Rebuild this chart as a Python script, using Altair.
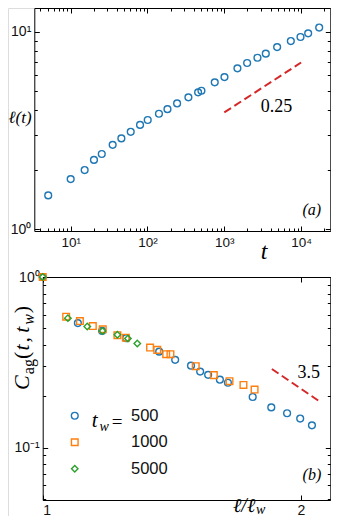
import altair as alt
import pandas as pd

# ---------------- panel (a): domain size l(t) ----------------
t_values = [5.1, 10, 15.2, 20.1, 25.4, 35.2, 45.7, 60.5, 80, 100.7, 141, 182, 243, 341, 456, 504,
            751, 1005, 1483, 1983, 2704, 3470, 4875, 7350, 9820, 12360, 17200]
ell_values = [1.48, 1.79, 1.99, 2.24, 2.40, 2.67, 2.88, 3.11, 3.37, 3.57, 3.84, 4.05, 4.33, 4.65, 4.93, 5.02,
              5.54, 5.89, 6.52, 6.94, 7.38, 7.74, 8.36, 8.97, 9.40, 9.81, 10.5]
guide_a_t = [1000, 10000]
guide_a_ell = [3.9, 6.98]

# ---------------- panel (b): autocorrelation ----------------
tw_labels = ["500", "1000", "5000"]
x500 = [1.0, 1.099, 1.173, 1.251, 1.367, 1.427, 1.489, 1.526, 1.559, 1.609, 1.644, 1.757, 1.847, 1.927, 1.996, 2.060]
c500 = [1.0, 0.537, 0.483, 0.438, 0.365, 0.327, 0.302, 0.279, 0.267, 0.250, 0.240, 0.198, 0.172, 0.159, 0.148, 0.135]
x1000 = [1.0, 1.065, 1.105, 1.144, 1.175, 1.222, 1.250, 1.334, 1.360, 1.393, 1.409, 1.508, 1.583, 1.651, 1.714, 1.766]
c1000 = [1.0, 0.585, 0.552, 0.516, 0.494, 0.456, 0.441, 0.386, 0.374, 0.353, 0.353, 0.300, 0.266, 0.245, 0.233, 0.219]
x5000 = [1.0, 1.070, 1.127, 1.174, 1.222, 1.257, 1.289]
c5000 = [1.0, 0.574, 0.513, 0.483, 0.459, 0.436, 0.408]
guide_b_x = [1.850, 2.101]
guide_b_c = [0.289, 0.187]

colors = ["#1f77b4", "#ff7f0e", "#2ca02c"]
shapes = ["circle", "square", "diamond"]
sizes = [46, 42, 62]
RED = "#d62728"
SANS = "Liberation Sans"
SERIF = "Liberation Serif"

# ---------------- canvas geometry (one view holding both panels) ----------------
W, H = 323, 508
A_L, A_R, A_T, A_B = 26.3, 322.3, 0.0, 223.0      # panel (a) frame
B_L, B_R, B_T, B_B = 34.7, 322.3, 269.0, 492.0    # panel (b) frame

xs_a = alt.Scale(type="log", domain=[3.36, 24000], range=[A_L, A_R], nice=False)
ys_a = alt.Scale(type="log", domain=[0.977, 13.19], range=[A_B, A_T], nice=False)
xs_b = alt.Scale(type="log", domain=[1.0, 2.164], range=[B_L, B_R], nice=False)
ys_b = alt.Scale(type="log", domain=[0.0493, 1.0], range=[B_B, B_T], nice=False)

NOAX = dict(labels=False, grid=False, title=None, minExtent=0, maxExtent=0)


def frame_and_ticks(data, xf, yf, xs, ys, L, R, T, B, xmaj, xmin, ymaj, ymin, major=5, minor=3):
    layers = []
    # top / right frame lines
    layers.append(alt.Chart(data).mark_point(opacity=0).encode(
        x=alt.X(f"{xf}:Q", scale=xs, axis=alt.Axis(orient="top", offset=-T, domain=True, ticks=False,
                                                   domainColor="black", domainWidth=1, values=[], **NOAX)),
        y=alt.Y(f"{yf}:Q", scale=ys, axis=alt.Axis(orient="right", offset=R - W, domain=True, ticks=False,
                                                   domainColor="black", domainWidth=1, values=[], **NOAX)),
    ))
    # inward ticks on all four sides
    for side in ("bl", "tr"):
        for xv, yv, s in ((xmaj, ymaj, major), (xmin, ymin, minor)):
            if side == "bl":
                xo, xoff, yo, yoff = "bottom", B - s - H, "left", -(L + s)
            else:
                xo, xoff, yo, yoff = "top", -(T + s), "right", R - s - W
            layers.append(alt.Chart(data).mark_point(opacity=0).encode(
                x=alt.X(f"{xf}:Q", scale=xs, axis=alt.Axis(
                    orient=xo, offset=xoff, values=xv, tickSize=s, ticks=True, domain=False,
                    tickColor="black", tickWidth=1, **NOAX)),
                y=alt.Y(f"{yf}:Q", scale=ys, axis=alt.Axis(
                    orient=yo, offset=yoff, values=yv, tickSize=s, ticks=True, domain=False,
                    tickColor="black", tickWidth=1, **NOAX)),
            ))
    return layers


def label_piece(text, x, y, size, style="normal", font=SERIF, angle=0, align="left", baseline="alphabetic"):
    return alt.Chart(pd.DataFrame({"s": [text]})).mark_text(
        font=font, fontSize=size, fontStyle=style, angle=angle, align=align, baseline=baseline,
        color="black").encode(x=alt.value(x), y=alt.value(y), text="s:N")


# ================= panel (a) =================
a_df = pd.DataFrame({"t": t_values, "ell": ell_values})
a_guide = pd.DataFrame({"t": guide_a_t, "ell": guide_a_ell})
a_txt1 = pd.DataFrame({"t": [4800], "ell": [4.17], "label": ["0.25"]})
a_txt2 = pd.DataFrame({"t": [13800], "ell": [1.25], "label": ["(a)"]})

main_a = alt.Chart(a_df).mark_point(filled=False, color=colors[0], size=sizes[0], strokeWidth=1.4, opacity=1).encode(
    x=alt.X("t:Q", scale=xs_a, axis=alt.Axis(
        orient="bottom", offset=A_B - H, values=[10, 100, 1000, 10000],
        labelExpr="datum.value < 50 ? '10\u00b9' : datum.value < 500 ? '10\u00b2' : datum.value < 5000 ? '10\u00b3' : '10\u2074'",
        ticks=False, domain=True, domainColor="black", domainWidth=1, grid=False, labelFont=SANS,
        labelFontSize=13.5, labelPadding=4, labelColor="#111", title=None, minExtent=0)),
    y=alt.Y("ell:Q", scale=ys_a, axis=alt.Axis(
        orient="left", offset=-A_L, values=[1, 10],
        labelExpr="datum.value < 5 ? '10\u2070' : '10\u00b9'",
        ticks=False, domain=True, domainColor="black", domainWidth=1, grid=False, labelFont=SANS,
        labelFontSize=14, labelPadding=3.5, labelColor="#111", title=None, minExtent=0)),
)
guide_a = alt.Chart(a_guide).mark_line(color=RED, strokeDash=[8, 4], strokeWidth=2).encode(
    x=alt.X("t:Q", scale=xs_a, axis=None), y=alt.Y("ell:Q", scale=ys_a, axis=None))
text_a1 = alt.Chart(a_txt1).mark_text(font=SERIF, fontSize=18, color="black").encode(
    x=alt.X("t:Q", scale=xs_a, axis=None), y=alt.Y("ell:Q", scale=ys_a, axis=None), text="label:N")
text_a2 = alt.Chart(a_txt2).mark_text(font=SERIF, fontSize=16, fontStyle="italic", color="black").encode(
    x=alt.X("t:Q", scale=xs_a, axis=None), y=alt.Y("ell:Q", scale=ys_a, axis=None), text="label:N")
titles_a = [
    label_piece("\u2113(t)", 0.5, 110, 17, "italic", baseline="middle"),
    label_piece("t", 256, 251, 24, "italic", align="center"),
]
ticks_a = frame_and_ticks(
    a_df, "t", "ell", xs_a, ys_a, A_L, A_R, A_T, A_B,
    [10, 100, 1000, 10000],
    [4, 5, 6, 7, 8, 9, 20, 30, 40, 50, 60, 70, 80, 90, 200, 300, 400, 500, 600, 700, 800, 900,
     2000, 3000, 4000, 5000, 6000, 7000, 8000, 9000, 20000],
    [1, 10],
    [2, 3, 4, 5, 6, 7, 8, 9],
)

# ================= panel (b) =================
rows = []
for lab, xv, cv in ((tw_labels[0], x500, c500), (tw_labels[1], x1000, c1000), (tw_labels[2], x5000, c5000)):
    for a, b in zip(xv, cv):
        rows.append({"x": a, "c": b, "tw": lab})
b_df = pd.DataFrame(rows)
b_guide = pd.DataFrame({"x": guide_b_x, "c": guide_b_c})
b_txt1 = pd.DataFrame({"x": [2.042], "c": [0.274], "label": ["3.5"]})
b_txt2 = pd.DataFrame({"x": [2.06], "c": [0.069], "label": ["(b)"]})

legend_b = alt.Legend(orient="none", legendX=58.5, legendY=399.5, title=None, labelFont=SANS,
                      labelFontSize=16.5, labelOffset=48, rowPadding=9.5, symbolStrokeWidth=1.4,
                      padding=0, labelLimit=0, labelColor="#111")

main_b = alt.Chart(b_df).mark_point(filled=False, strokeWidth=1.4, opacity=1).encode(
    x=alt.X("x:Q", scale=xs_b, axis=alt.Axis(
        orient="bottom", offset=B_B - H, values=[1, 2], format="d", ticks=False, domain=True,
        domainColor="black", domainWidth=1, grid=False, labelFont=SANS, labelFontSize=14,
        labelPadding=3, labelColor="#111", title=None, minExtent=0)),
    y=alt.Y("c:Q", scale=ys_b, axis=alt.Axis(
        orient="left", offset=-B_L, values=[0.1, 1],
        labelExpr="datum.value < 0.5 ? '10\u207b\u00b9' : '10\u2070'",
        ticks=False, domain=True, domainColor="black", domainWidth=1, grid=False, labelFont=SANS,
        labelFontSize=14, labelPadding=3.5, labelColor="#111", title=None, minExtent=0)),
    color=alt.Color("tw:N", scale=alt.Scale(domain=tw_labels, range=colors), legend=legend_b),
    shape=alt.Shape("tw:N", scale=alt.Scale(domain=tw_labels, range=shapes), legend=legend_b),
    size=alt.Size("tw:N", scale=alt.Scale(domain=tw_labels, range=sizes), legend=legend_b),
)
guide_b = alt.Chart(b_guide).mark_line(color=RED, strokeDash=[8, 4], strokeWidth=2).encode(
    x=alt.X("x:Q", scale=xs_b, axis=None), y=alt.Y("c:Q", scale=ys_b, axis=None))
text_b1 = alt.Chart(b_txt1).mark_text(font=SERIF, fontSize=18, color="black").encode(
    x=alt.X("x:Q", scale=xs_b, axis=None), y=alt.Y("c:Q", scale=ys_b, axis=None), text="label:N")
text_b2 = alt.Chart(b_txt2).mark_text(font=SERIF, fontSize=16, fontStyle="italic", color="black").encode(
    x=alt.X("x:Q", scale=xs_b, axis=None), y=alt.Y("c:Q", scale=ys_b, axis=None), text="label:N")

# y title  C_ag(t, t_w), rotated, reading upward
YX, SX = 21, 26
titles_b = [
    label_piece("C", YX, 382, 22, "italic", angle=270),
    label_piece("ag", SX, 366.2, 16, angle=270),
    label_piece("(", YX, 351.1, 22, angle=270),
    label_piece("t", YX, 342.5, 22, "italic", angle=270),
    label_piece(",", YX, 334.5, 22, angle=270),
    label_piece("t", YX, 324.7, 22, "italic", angle=270),
    label_piece("w", SX, 316.7, 16, "italic", angle=270),
    label_piece(")", YX, 305.2, 22, angle=270),
    # x title  l/l_w
    label_piece("\u2113/\u2113", 225, 504, 20, "italic"),
    label_piece("w", 248, 506, 14, "italic"),
    # legend prefix  t_w=
    label_piece("t", 83.7, 419, 21, "italic"),
    label_piece("w", 91.5, 423, 14, "italic"),
    label_piece("=", 109, 414, 19, baseline="middle", align="center"),
]
ticks_b = frame_and_ticks(
    b_df, "x", "c", xs_b, ys_b, B_L, B_R, B_T, B_B,
    [1, 2], [],
    [0.1, 1],
    [0.05, 0.06, 0.07, 0.08, 0.09, 0.2, 0.3, 0.4, 0.5, 0.6, 0.7, 0.8, 0.9],
)

chart = alt.layer(
    main_a, guide_a, text_a1, text_a2, *titles_a, *ticks_a,
    main_b, guide_b, text_b1, text_b2, *titles_b, *ticks_b,
).resolve_scale(x="independent", y="independent").resolve_axis(x="independent", y="independent").properties(
    width=W, height=H, autosize=alt.AutoSizeParams(type="none"),
    padding={"left": 0, "top": 0, "right": 0, "bottom": 0},
)
chart = chart.configure_view(stroke=None).configure(background="white")

chart.save("out.html", embed_options={"renderer": "svg", "actions": False})
